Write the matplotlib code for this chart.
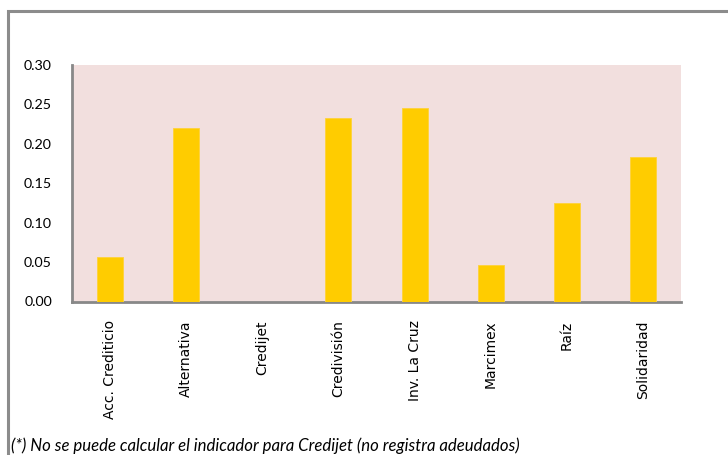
import matplotlib
matplotlib.use("Agg")
import matplotlib.pyplot as plt
from matplotlib.patches import Rectangle

categories = ["Acc. Crediticio", "Alternativa", "Credijet", "Credivisión",
              "Inv. La Cruz", "Marcimex", "Raíz", "Solidaridad"]
values = [0.056, 0.220, 0.0, 0.233, 0.245, 0.046, 0.125, 0.183]
yticks = [0.00, 0.05, 0.10, 0.15, 0.20, 0.25, 0.30]
footnote = "(*) No se puede calcular el indicador para Credijet (no registra adeudados)"

W, H = 728, 455
fig = plt.figure(figsize=(W / 100, H / 100), dpi=100)
fig.patch.set_facecolor("white")

# outer chart frame (extends past right and bottom edges)
frame = Rectangle((8 / W, -0.1), 1.2, 1 - 11 / H + 0.1,
                  transform=fig.transFigure, fill=False,
                  edgecolor="#8c8c8c", linewidth=2.2, clip_on=False)
fig.patches.append(frame)

left, right, top, bottom = 72, 681, 65, 301.5
ax = fig.add_axes([left / W, 1 - bottom / H, (right - left) / W, (bottom - top) / H])
ax.set_facecolor("#F2DFDE")

x = range(len(categories))
ax.bar(x, values, width=0.34, color="#FFCC00", edgecolor="#FFD23A", linewidth=0.6, zorder=3)

ax.set_xlim(-0.5, len(categories) - 0.5)
ax.set_ylim(0, 0.30)
ax.set_yticks(yticks)
ax.set_yticklabels([f"{v:.2f}" for v in yticks], fontfamily="Lato", fontsize=10.3)
ax.set_xticks(list(x))
ax.set_xticklabels(categories, rotation=90, fontfamily="DejaVu Sans", fontsize=10,
                   va="top", ha="center")
ax.tick_params(axis="y", length=0, pad=14.4)
ax.tick_params(axis="x", length=0, pad=13.5)

for s in ["top", "right"]:
    ax.spines[s].set_visible(False)
for s in ["left", "bottom"]:
    ax.spines[s].set_color("#888888")
    ax.spines[s].set_linewidth(2)

fig.text(11 / W, 1 - 451 / H, footnote, fontfamily="Lato", fontstyle="italic",
         fontsize=12.1, va="baseline", ha="left", color="black")

fig.savefig("out.png", dpi=100, facecolor="white")
